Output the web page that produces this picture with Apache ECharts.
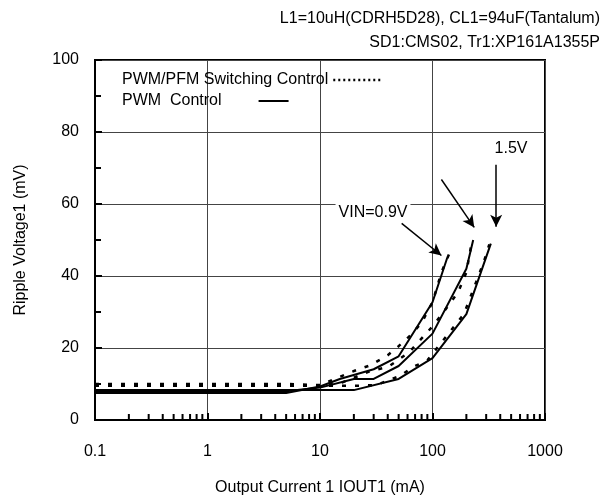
<!DOCTYPE html>
<html><head><meta charset="utf-8">
<script src="https://cdn.jsdelivr.net/npm/echarts@6/dist/echarts.min.js"></script>
<style>html,body{margin:0;padding:0;background:#fff}#c{width:606px;height:501px}</style>
</head><body><div id="c"></div>
<script>
// ---- data (mA, mV) ----
const pwm09X = [0.1,0.2,0.5,1,2,5,10,15,30,50,100,135];
const pwm09Y = [7.5,7.5,7.5,7.5,7.5,7.5,9.3,11.4,14.1,17.7,32.7,45];
const pwm12X = [0.1,0.2,0.5,1,2,5,10,20,30,50,100,200,230];
const pwm12Y = [8,8,8,8,8,8,9,11.4,11.4,15,24,42,50];
const pwm15X = [0.1,0.2,0.5,1,2,5,10,20,50,100,200,330];
const pwm15Y = [8.3,8.3,8.3,8.3,8.3,8.3,8.3,8.3,11.4,17.2,29.4,49];
const pfm09X = [0.1,0.2,0.5,1,2,5,10,15,20,28,40,50,65,80,100,120,140];
const pfm09Y = [10,10,10,10,10,10,9.7,12,13.6,15.2,18,20.5,23.8,27,32.7,41,46];
const pfm12X = [0.1,0.2,0.5,1,2,5,10,16,28,40,62,100,140,170,200,225];
const pfm12Y = [9.5,9.5,9.5,9.5,9.5,9.5,9.5,10.5,13.6,14.7,18.8,26,32,35.7,41,50];
const pfm15X = [0.1,0.2,0.5,1,2,5,10,20,32,40,51,67,90,190,285,320];
const pfm15Y = [9.5,9.5,9.5,9.5,9.5,9.5,9.5,9.5,9.7,11,12.2,14.7,16.6,29.4,43.8,48.8];
const xTickLabels = ['0.1','1','10','100','1000'];
const yTickLabels = [0,20,40,60,80,100];
const minorTicksX = [0.2,0.3,0.4,0.5,0.6,0.7,0.8,0.9,2,3,4,5,6,7,8,9,20,30,40,50,60,70,80,90,200,300,400,500,600,700,800,900];
const arrows = [
  [[53.2,54.6],[120,45.7]],
  [[120,66.8],[235,53.5]],
  [[368,70.9],[368,53.7]]
];
const nameSolid = 'PWM  Control';
const nameDot = 'PWM/PFM Switching Control';

const zip = (xs, ys) => xs.map((x, i) => [x, ys[i]]);
const F = 'Liberation Sans, Arial, sans-serif';
const chart = echarts.init(document.getElementById('c'));
const solid = {type:'solid', width:2, color:'#000'};
const dot = {type:[4,9], width:2.5, color:'#000'};
function line(name, data, ls){
  return {type:'line', name, data, showSymbol:false, symbol:'none', lineStyle:ls, itemStyle:{color:'#000'}, z:5, silent:true};
}
const legendItemStyle = {color:'transparent', borderWidth:0, opacity:0};
chart.setOption({
  animation:false,
  grid:{left:95, right:61, top:60, bottom:80, show:true, borderColor:'#000', borderWidth:2},
  legend:[
    {data:[nameDot], left:117, top:67, orient:'vertical', align:'right', itemWidth:47, itemHeight:10,
     itemStyle:legendItemStyle, lineStyle:{type:[2,3], width:2.5},
     textStyle:{fontFamily:F, fontSize:16, color:'#000'}},
    {data:[nameSolid], left:117, top:88, orient:'vertical', align:'right', itemWidth:30, itemHeight:10,
     itemStyle:legendItemStyle,
     textStyle:{fontFamily:F, fontSize:16, color:'#000', padding:[0,32,0,0]}}
  ],
  xAxis:{type:'log', logBase:10, min:0.1, max:1000,
    name:'Output Current 1 IOUT1 (mA)', nameLocation:'middle', nameGap:60,
    nameTextStyle:{fontFamily:F, fontSize:16, color:'#000'},
    axisLine:{lineStyle:{color:'#000', width:2}},
    axisTick:{inside:true, length:7, lineStyle:{color:'#000', width:2}},
    axisLabel:{fontFamily:F, fontSize:16, color:'#000', margin:24,
      formatter:v => { const s = xTickLabels.find(t => Math.abs(parseFloat(t)-v) < 1e-6*Math.max(1,v)); return s || String(v); }},
    splitLine:{show:true, lineStyle:{color:'#444', width:1}}
  },
  yAxis:{type:'value', min:0, max:100, interval:20,
    name:'Ripple Voltage1 (mV)', nameLocation:'middle', nameGap:66,
    nameTextStyle:{fontFamily:F, fontSize:16, color:'#000'},
    axisLine:{show:true, lineStyle:{color:'#000', width:2}},
    axisTick:{show:true, inside:true, length:7, lineStyle:{color:'#000', width:2}},
    minorTick:{show:true, splitNumber:2, length:6, lineStyle:{color:'#000', width:2}},
    axisLabel:{fontFamily:F, fontSize:16, color:'#000', margin:16,
      formatter:v => yTickLabels.includes(v) ? String(v) : ''},
    splitLine:{show:true, lineStyle:{color:'#444', width:1}}
  },
  series:[
    line(nameDot, zip(pfm09X,pfm09Y), dot),
    line(nameDot, zip(pfm12X,pfm12Y), dot),
    line(nameDot, zip(pfm15X,pfm15Y), dot),
    line(nameSolid, zip(pwm09X,pwm09Y), solid),
    line(nameSolid, zip(pwm12X,pwm12Y), solid),
    line(nameSolid, zip(pwm15X,pwm15Y), solid),
    {type:'custom', silent:true, z:6, clip:false, data:minorTicksX.map(v=>[v,0]),
     renderItem:(params, api) => {
       const p = api.coord([api.value(0), 0]);
       return {type:'line', shape:{x1:p[0], y1:p[1], x2:p[0], y2:p[1]-6}, style:{stroke:'#000', lineWidth:2}};
     }},
    {type:'line', data:[], silent:true, z:7,
     markLine:{silent:true, symbol:['none','arrow'], symbolSize:[9,12], animation:false,
       label:{show:false}, lineStyle:{color:'#000', width:1.5, type:'solid'},
       data:arrows.map(a => [{coord:a[0]},{coord:a[1]}])}}
  ],
  graphic:[
    {type:'text', x:600, y:19, style:{text:'L1=10uH(CDRH5D28), CL1=94uF(Tantalum)', font:'16px '+F, fill:'#000', align:'right', verticalAlign:'middle'}},
    {type:'text', x:600, y:43, style:{text:'SD1:CMS02, Tr1:XP161A1355P', font:'16px '+F, fill:'#000', align:'right', verticalAlign:'middle'}},
    {type:'text', x:373, y:213, z:10, style:{text:'VIN=0.9V', font:'16px '+F, fill:'#000', align:'center', verticalAlign:'middle', backgroundColor:'#fff', padding:[1,3]}},
    {type:'text', x:511, y:149, z:10, style:{text:'1.5V', font:'16px '+F, fill:'#000', align:'center', verticalAlign:'middle', backgroundColor:'#fff'}}
  ]
});
</script></body></html>
